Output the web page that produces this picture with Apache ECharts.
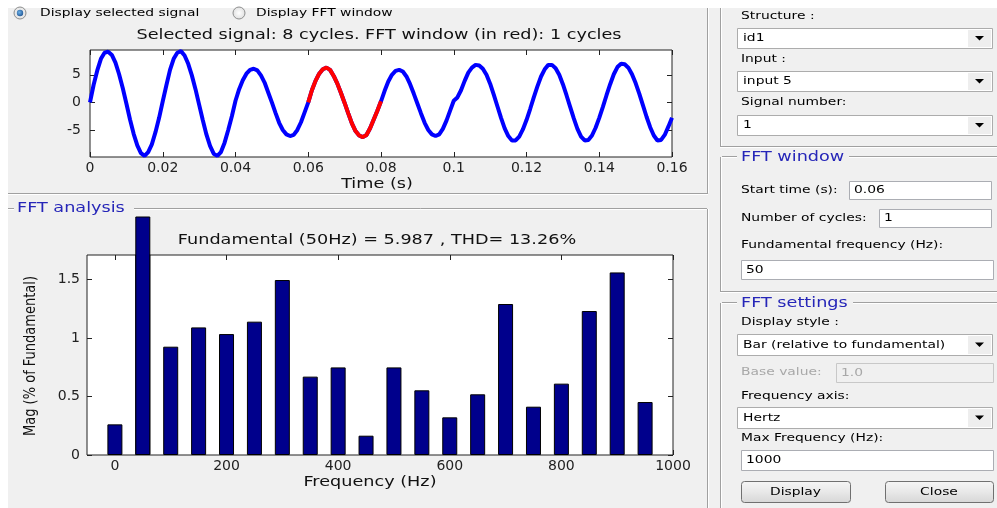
<!DOCTYPE html>
<html><head><meta charset="utf-8">
<script src="https://cdn.jsdelivr.net/npm/echarts@6/dist/echarts.min.js"></script>
<style>html,body{margin:0;padding:0;background:#fff}#c{width:997px;height:508px}</style>
</head><body><div id="c"></div>
<script>
// ---------------- data ----------------
const sampleStep = 0.001; // s
const signal = [
  0.0, 3.2, 5.8, 7.9, 9.0, 9.2, 8.6, 7.2, 5.1, 2.6,
 -0.2,-3.1,-5.7,-7.8,-9.2,-9.7,-9.0,-7.6,-5.4,-2.8,
  0.2, 3.1, 5.9, 7.9, 9.0, 9.3, 8.5, 7.0, 4.9, 2.4,
 -0.4,-3.2,-5.8,-7.9,-9.3,-9.7,-9.0,-7.3,-5.0,-2.5,
  0.3, 2.4, 4.0, 5.2, 5.9, 6.1, 5.8, 4.9, 3.6, 1.8,
  0.0,-1.9,-3.7,-5.0,-5.8,-6.1,-5.9,-5.0,-3.6,-1.8,
  0.0, 2.2, 3.9, 5.2, 6.0, 6.3, 5.9, 4.8, 3.4, 1.7,
 -0.1,-2.0,-3.8,-5.2,-6.0,-6.3,-5.9,-4.7,-3.1,-1.5,
  0.2, 2.1, 3.8, 5.0, 5.7, 5.9, 5.6, 4.7, 3.3, 1.6,
 -0.2,-2.0,-3.7,-5.0,-5.8,-6.1,-5.8,-4.8,-3.3,-1.5,
  0.3, 0.9, 2.2, 3.9, 5.4, 6.3, 6.8, 6.7, 6.1, 5.0,
  3.4, 1.4,-0.7,-2.8,-4.7,-6.1,-6.9,-6.9,-6.2,-4.9,
 -3.2,-1.2, 0.9, 2.9, 4.7, 6.0, 6.8, 6.8, 6.2, 5.0,
  3.3, 1.3,-0.8,-2.9,-4.8,-6.2,-6.9,-6.8,-6.0,-4.6,
 -2.8,-0.8, 1.3, 3.3, 5.1, 6.4, 7.0, 6.9, 6.3, 5.1,
  3.5, 1.6,-0.5,-2.6,-4.5,-6.0,-6.9,-6.8,-5.9,-4.4,
 -2.8
];
const fundamentalHz = 50;
const fftStart = 0.06;
const fftCycles = 1;
const harmonicFreqs = [0,50,100,150,200,250,300,350,400,450,500,550,600,650,700,750,800,850,900,950];
const harmonicMag   = [0.262,100,0.926,1.091,1.034,1.140,1.496,0.670,0.749,0.165,0.749,0.553,0.322,0.519,1.291,0.413,0.610,1.231,1.561,0.453];
const timeTicks = [0,0.02,0.04,0.06,0.08,0.1,0.12,0.14,0.16];
const signalTicks = [-5,0,5];
const freqTicks = [0,200,400,600,800,1000];
const magTicks = [0,0.5,1,1.5];
const topTitle = 'Selected signal: 8 cycles. FFT window (in red): 1 cycles';
const fftTitle = 'Fundamental (50Hz) = 5.987 , THD= 13.26%';

// ---------------- build ----------------
const FONT = '"DejaVu Sans", Verdana, sans-serif';
const SX = 1.26;
const sigData = signal.map((v,i)=>[+(i*sampleStep).toFixed(4), v]);
const winEnd = fftStart + fftCycles / fundamentalHz;
const redData = sigData.filter(p => p[0] >= fftStart - 1e-9 && p[0] <= winEnd + 1e-9);
const barData = harmonicFreqs.map((f,i)=>[f, harmonicMag[i]]);
const fundData = barData.filter(p => p[0] === fundamentalHz);

function T(x, y, text, o) {
  o = o || {};
  return { type:'text', x:x, y:y, scaleX: o.sx || SX, scaleY: o.sy || 1, rotation: o.rot || 0, z: 10,
    style:{ text:text, font:(o.size||11)+'px '+FONT, fill:o.color||'#000',
      align:o.align||'left', textAlign:o.align||'left', verticalAlign:'middle', textVerticalAlign:'middle' } };
}
function R(x, y, w, h, fill, stroke, r) {
  return { type:'rect', z:1, shape:{x:x, y:y, width:w, height:h, r:r||0},
    style:{ fill:fill, stroke:stroke||null, lineWidth:1 } };
}
function L(x1, y1, x2, y2, c) {
  return { type:'line', z:1, shape:{x1:x1,y1:y1,x2:x2,y2:y2}, style:{stroke:c||'#a0a0a0', lineWidth:1} };
}
function etchH(x1, x2, y) { return [L(x1,y+0.5,x2,y+0.5,'#a0a0a0'), L(x1,y+1.5,x2,y+1.5,'#ffffff')]; }
function etchV(x, y1, y2) { return [L(x+0.5,y1,x+0.5,y2,'#a0a0a0'), L(x+1.5,y1,x+1.5,y2,'#ffffff')]; }
function dropdown(y1, y2, text) {
  return [R(737.5, y1+0.5, 255, y2-y1, '#ffffff', '#acacac'),
    R(968, y1+2, 23, y2-y1-3, '#eeeeee', null),
    { type:'polygon', z:2, shape:{points:[[975,(y1+y2)/2-2],[984,(y1+y2)/2-2],[979.5,(y1+y2)/2+2.5]]}, style:{fill:'#000'} },
    T(743, (y1+y2)/2+0.5, text)];
}
function field(x1, x2, y1, y2, text, disabled) {
  return [R(x1+0.5, y1+0.5, x2-x1, y2-y1, disabled?'#f0f0f0':'#ffffff', disabled?'#c8c8c8':'#abadb3'),
    T(x1+5, (y1+y2)/2+0.5, text, {color: disabled?'#a8a8a8':'#000'})];
}
function button(x1, x2, y1, y2, text) {
  return [{ type:'rect', z:1, shape:{x:x1+0.5,y:y1+0.5,width:x2-x1,height:y2-y1,r:3},
      style:{ stroke:'#707070', lineWidth:1,
        fill:{type:'linear',x:0,y:0,x2:0,y2:1,colorStops:[{offset:0,color:'#f6f6f6'},{offset:0.5,color:'#e8e8e8'},{offset:1,color:'#d6d6d6'}]} } },
    T((x1+x2)/2, (y1+y2)/2+0.5, text, {align:'center'})];
}
function radio(cx, cy, on) {
  const e = [{ type:'circle', z:2, shape:{cx:cx, cy:cy, r:6}, style:{
      fill:{type:'radial',x:0.5,y:0.5,r:0.6,colorStops:[{offset:0,color:'#ffffff'},{offset:1,color:'#d8d8d8'}]},
      stroke:'#8e8f8f', lineWidth:1 } }];
  if (on) e.push({ type:'circle', z:3, shape:{cx:cx, cy:cy, r:3.2}, style:{
      fill:{type:'radial',x:0.4,y:0.4,r:0.7,colorStops:[{offset:0,color:'#6fb3e8'},{offset:1,color:'#1b4f8f'}]} } });
  return e;
}

const BLUE_T = '#2626b8';
let g = [];
g.push(R(0,0,997,8,'#ffffff'), R(0,0,8,508,'#ffffff'));
// left panels
g.push(...etchH(8, 708, 193), ...etchV(707, 8, 193));
g.push(...etchH(8, 14, 208), ...etchH(134, 707, 208), ...etchV(707, 209, 508));
// right panels
g.push(...etchV(720, 8, 147), ...etchH(720, 997, 146));
g.push(...etchH(722, 737, 156), ...etchH(849, 997, 156), ...etchV(720, 157, 292), ...etchH(720, 997, 291));
g.push(...etchH(722, 737, 302), ...etchH(853, 997, 302), ...etchV(720, 303, 508));
// radios
g.push(...radio(20, 13, true), T(40, 13, 'Display selected signal'));
g.push(...radio(239, 13, false), T(256, 13, 'Display FFT window'));
// plot texts
g.push(T(379, 35, topTitle, {size:14, align:'center', color:'#111'}));
g.push(T(377, 184, 'Time (s)', {size:14, align:'center', color:'#111'}));
g.push(T(17, 208, 'FFT analysis', {size:14, color:BLUE_T}));
g.push(T(377, 240, fftTitle, {size:14, align:'center', color:'#111'}));
g.push(T(370, 482, 'Frequency (Hz)', {size:14, align:'center', color:'#111'}));
g.push(T(31, 356, 'Mag (% of Fundamental)', {size:13, align:'center', color:'#111', sx:1, sy:SX, rot:Math.PI/2}));
// right-side controls
g.push(T(741, 16, 'Structure :'), ...dropdown(28, 48, 'id1'));
g.push(T(741, 59, 'Input :'), ...dropdown(71, 91, 'input 5'));
g.push(T(741, 102, 'Signal number:'), ...dropdown(115, 135, '1'));
g.push(T(741, 157, 'FFT window', {size:14, color:BLUE_T}));
g.push(T(741, 190, 'Start time (s):'), ...field(849, 991, 181, 199, '0.06'));
g.push(T(741, 218, 'Number of cycles:'), ...field(879, 991, 209, 227, '1'));
g.push(T(741, 245, 'Fundamental frequency (Hz):'), ...field(741, 993, 260, 279, '50'));
g.push(T(741, 303, 'FFT settings', {size:14, color:BLUE_T}));
g.push(T(741, 322, 'Display style :'), ...dropdown(334, 355, 'Bar (relative to fundamental)'));
g.push(T(741, 372, 'Base value:', {color:'#a8a8a8'}), ...field(836, 993, 363, 382, '1.0', true));
g.push(T(741, 396, 'Frequency axis:'), ...dropdown(407, 428, 'Hertz'));
g.push(T(741, 438, 'Max Frequency (Hz):'), ...field(741, 993, 450, 470, '1000'));
g.push(...button(741, 850, 481, 502, 'Display'), ...button(885, 993, 481, 502, 'Close'));

const AL = { show:false, onZero:false };
const tick = (vals) => ({ show:true, inside:true, length:5, lineStyle:{color:'#222'}, customValues: vals });
const lab = (vals, margin) => ({ show:true, customValues: vals, margin: margin, color:'#222', fontFamily:FONT, fontSize:14,
  formatter: v => String(+(+v).toFixed(4)) });
const noLab = { show:false };

const option = {
  backgroundColor:'#f0f0f0',
  animation:false,
  grid:[
    { left:90, top:50, width:582, height:107, show:true, backgroundColor:'#fff', borderColor:'#222', borderWidth:1 },
    { left:87, top:255, width:586, height:200, show:true, backgroundColor:'#fff', borderColor:'#222', borderWidth:1 },
    { left:87, top:217, width:586, height:238, show:false }
  ],
  xAxis:[
    { gridIndex:0, type:'value', min:0, max:0.16, position:'bottom', axisLine:AL, splitLine:{show:false}, axisTick:tick(timeTicks), axisLabel:lab(timeTicks, 4) },
    { gridIndex:0, type:'value', min:0, max:0.16, position:'top', axisLine:AL, splitLine:{show:false}, axisTick:tick(timeTicks), axisLabel:noLab },
    { gridIndex:1, type:'value', min:-50, max:1000, position:'bottom', axisLine:AL, splitLine:{show:false}, axisTick:tick(freqTicks), axisLabel:lab(freqTicks, 4) },
    { gridIndex:1, type:'value', min:-50, max:1000, position:'top', axisLine:AL, splitLine:{show:false}, axisTick:tick(freqTicks), axisLabel:noLab },
    { gridIndex:2, type:'value', min:-50, max:1000, show:false, axisLine:AL }
  ],
  yAxis:[
    { gridIndex:0, type:'value', min:-9.9, max:9.5, position:'left', axisLine:AL, splitLine:{show:false}, axisTick:tick(signalTicks), axisLabel:lab(signalTicks, 9) },
    { gridIndex:0, type:'value', min:-9.9, max:9.5, position:'right', axisLine:AL, splitLine:{show:false}, axisTick:tick(signalTicks), axisLabel:noLab },
    { gridIndex:1, type:'value', min:0, max:1.71, position:'left', axisLine:AL, splitLine:{show:false}, axisTick:tick(magTicks), axisLabel:lab(magTicks, 7) },
    { gridIndex:1, type:'value', min:0, max:1.71, position:'right', axisLine:AL, splitLine:{show:false}, axisTick:tick(magTicks), axisLabel:noLab },
    { gridIndex:2, type:'value', min:0, max:1.71*238/200, show:false, axisLine:AL }
  ],
  series:[
    { type:'line', xAxisIndex:0, yAxisIndex:0, data:sigData, symbol:'none', clip:true, lineStyle:{color:'#0000ff', width:4}, z:3 },
    { type:'line', xAxisIndex:0, yAxisIndex:0, data:redData, symbol:'none', clip:true, lineStyle:{color:'#ff0000', width:4}, z:4 },
    { type:'bar', xAxisIndex:2, yAxisIndex:2, data:barData, barWidth:15, clip:true, itemStyle:{color:'#00008c', borderColor:'#000', borderWidth:1}, z:3 },
    { type:'bar', xAxisIndex:4, yAxisIndex:4, data:fundData, barWidth:15, clip:true, itemStyle:{color:'#00008c', borderColor:'#000', borderWidth:1}, z:4 }
  ],
  graphic:{ elements: g }
};
const chart = echarts.init(document.getElementById('c'));
chart.setOption(option);
</script></body></html>
